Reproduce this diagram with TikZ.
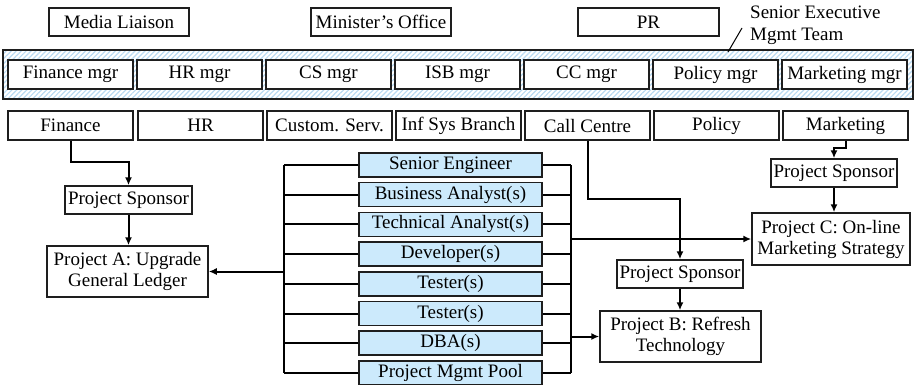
\documentclass[tikz,border=0pt]{standalone}
\usepackage{fontspec}
\setmainfont{Liberation Serif}
\usetikzlibrary{arrows.meta,patterns.meta}
\definecolor{hatchc}{RGB}{185,218,242}
\definecolor{staffc}{RGB}{204,234,252}
\definecolor{edgec}{RGB}{30,30,30}
\begin{document}
\begin{tikzpicture}[x=1pt,y=-1pt,
  font=\fontsize{19}{21}\selectfont,
  box/.style={draw=edgec,line width=1.5pt,inner sep=0pt,minimum height=28pt,minimum width=125pt},
  staff/.style={box,fill=staffc,minimum width=183pt,minimum height=24pt},
  two/.style={box,align=center,minimum height=51pt},
  con/.style={line width=2pt},
  arr/.style={line width=2pt,-{Latex[length=8pt,width=7pt]}}]
\useasboundingbox (0,0) rectangle (915,384);
\clip (0,0) rectangle (915,384);
% top row
\node[box,minimum width=140pt] (media) at (119,22) {Media Liaison};
\node[box,minimum width=140pt] (mins) at (381,22) {Minister’s Office};
\node[box,minimum width=141pt] (pr) at (648.5,22) {PR};
\node[anchor=north west,align=left,inner sep=0pt,font=\fontsize{19}{22}\selectfont] (sem) at (750,6) {Senior Executive\\Mgmt Team};
% band
\node[draw=edgec,line width=1.5pt,minimum width=910pt,minimum height=49pt,inner sep=0pt,
  pattern={Lines[angle=45,distance=3.5pt,line width=1.2pt]},pattern color=hatchc] (band) at (458,74.5) {};
\coordinate (sl1) at (728,52);
\coordinate (sl2) at (742,28);
\draw[line width=1pt] (sl1) -- (sl2);
% managers
\node[box,fill=white,minimum height=29pt] (m1) at (70.5,74.5) {Finance mgr};
\node[box,fill=white,minimum height=29pt] (m2) at (199.5,74.5) {HR mgr};
\node[box,fill=white,minimum height=29pt] (m3) at (328.5,74.5) {CS mgr};
\node[box,fill=white,minimum height=29pt] (m4) at (457.5,74.5) {ISB mgr};
\node[box,fill=white,minimum height=29pt] (m5) at (586.5,74.5) {CC mgr};
\node[box,fill=white,minimum height=29pt] (m6) at (715.5,74.5) {Policy mgr};
\node[box,fill=white,minimum height=29pt] (m7) at (844.5,74.5) {Marketing mgr};
% departments
\node[box,minimum height=29pt] (fin) at (70.5,125.5) {Finance};
\node[box,minimum height=29pt] (hr) at (200.5,125.5) {HR};
\node[box,minimum height=29pt] (cs) at (329.5,125.5) {Custom. Serv.};
\node[box,minimum height=29pt] (isb) at (458.5,125.5) {Inf Sys Branch};
\node[box,minimum height=29pt] (cc) at (587.5,125.5) {Call Centre};
\node[box,minimum height=29pt] (pol) at (716.5,125.5) {Policy};
\node[box,minimum height=29pt] (mk) at (845.5,125.5) {Marketing};
% sponsors and projects
\node[box,minimum width=127pt] (spA) at (128.5,200) {Project Sponsor};
\node[two,minimum width=161pt] (pA) at (127.5,271.5) {Project A: Upgrade\\General Ledger};
\node[box,minimum width=126pt] (spB) at (680,274) {Project Sponsor};
\node[two,minimum width=161pt] (pB) at (680.5,336.5) {Project B: Refresh\\Technology};
\node[box,minimum width=126pt] (spC) at (834,173) {Project Sponsor};
\node[two,minimum width=158pt,minimum height=52pt] (pC) at (831,239) {Project C: On-line\\Marketing Strategy};
% staff
\node[staff] (s1) at (450.5,165) {Senior Engineer};
\node[staff] (s2) at (450.5,194.7) {Business Analyst(s)};
\node[staff] (s3) at (450.5,224.4) {Technical Analyst(s)};
\node[staff] (s4) at (450.5,254.1) {Developer(s)};
\node[staff] (s5) at (450.5,283.8) {Tester(s)};
\node[staff] (s6) at (450.5,313.5) {Tester(s)};
\node[staff] (s7) at (450.5,343.2) {DBA(s)};
\node[staff] (s8) at (450.5,372.9) {Project Mgmt Pool};
\coordinate (lbus) at (284,0);
\coordinate (rbus) at (571,0);
\foreach \i in {1,...,8}{
  \draw[con] (s\i.west) -- (s\i.west -| lbus);
  \draw[con] (s\i.east) -- (s\i.east -| rbus);
}
\draw[con] (s1.west -| lbus) -- (s8.west -| lbus);
\draw[con] (s1.east -| rbus) -- (s8.east -| rbus);
\draw[arr] (pA.east -| lbus) -- (pA.east);
\draw[arr] (pB.west -| rbus) -- (pB.west);
\draw[arr] (pC.west -| rbus) -- (pC.west);
% sponsor arrows
\coordinate (fA) at (0,162);
\coordinate (fB) at (0,199);
\coordinate (fC) at (0,148);
\draw[arr] (fin.south) -- (fin.south |- fA) -| (spA.north);
\draw[arr] (spA.south) -- (spA.south |- pA.north);
\draw[arr] (cc.south) -- (cc.south |- fB) -| (spB.north);
\draw[arr] (spB.south) -- (spB.south |- pB.north);
\draw[arr] (mk.south) -- (mk.south |- fC) -| (spC.north);
\draw[arr] (spC.south) -- (spC.south |- pC.north);
\end{tikzpicture}
\end{document}
